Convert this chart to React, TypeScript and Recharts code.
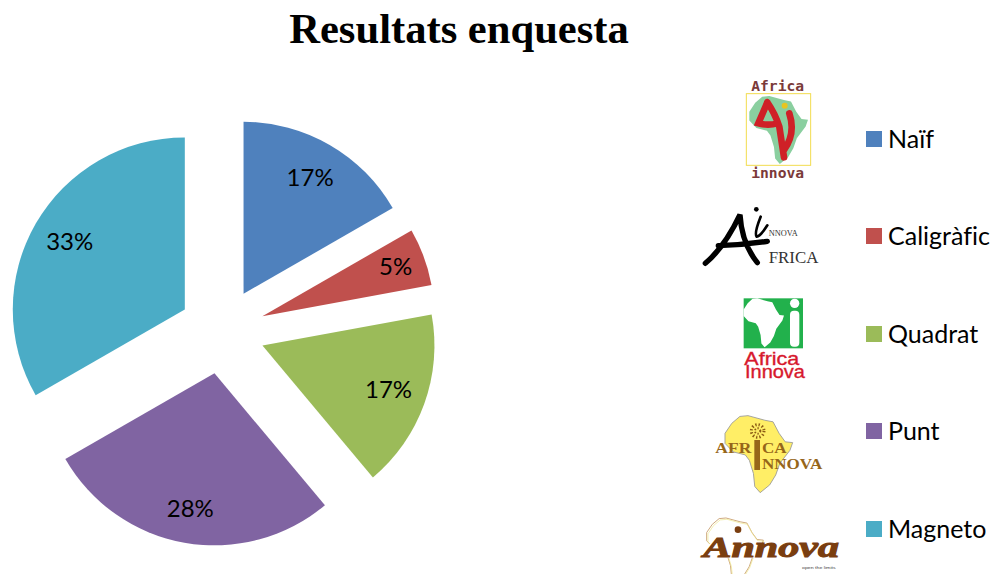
import { PieChart, Pie, Legend, Sector } from "recharts";

const categories = ["Naïf", "Caligràfic", "Quadrat", "Punt", "Magneto"];
const shares = [16.7, 5.4, 16.8, 27.8, 33.3];
const colors = ["#4F81BD", "#C0504D", "#9BBB59", "#8064A2", "#4BACC6"];

const chartData = categories.map((name, i) => ({ name, value: shares[i], fill: colors[i] }));

const RADIAN = Math.PI / 180;
const EXPLODE = 43;
const LABEL_RADII: Record<string, number> = { Naïf: 176, Caligràfic: 185, Quadrat: 177, Punt: 181, Magneto: 176 };
const AFRICA =
  "M22 1 L34 0 L59 6 L71 8 L80 23 L89 34 L100 35 L96 45 L81 62 L75 77 L66 90 L52 100 L44 92 L42 75 L36 58 L30 51 L12 47 L0 36 L0 23 L10 10 Z";

// Sector pushed outwards along its middle angle
const ExplodedSector = (props: any) => {
  const dx = EXPLODE * Math.cos(-props.midAngle * RADIAN);
  const dy = EXPLODE * Math.sin(-props.midAngle * RADIAN);
  return <Sector {...props} cx={props.cx + dx} cy={props.cy + dy} stroke="none" />;
};

const SliceLabel = ({ cx, cy, midAngle, value, name }: any) => (
  <text
    x={cx + LABEL_RADII[name] * Math.cos(-midAngle * RADIAN)}
    y={cy + LABEL_RADII[name] * Math.sin(-midAngle * RADIAN) - 2}
    textAnchor="middle"
    dominantBaseline="central"
    fontFamily="Lato"
    fontSize={24}
    fill="#000"
  >
    {`${Math.round(value)}%`}
  </text>
);

const LegendRows = ({ payload }: any) => (
  <div style={{ fontFamily: "Lato", fontSize: 25, color: "#000", fontVariantLigatures: "none" }}>
    {(payload || []).map((entry: any) => (
      <div key={entry.value} style={{ height: 97.4, display: "flex", alignItems: "flex-start" }}>
        <span style={{ width: 16, height: 16, marginTop: 8, marginRight: 6, background: entry.color }} />
        <span style={{ lineHeight: "30px", whiteSpace: "nowrap" }}>{entry.value}</span>
      </div>
    ))}
  </div>
);

// Logos next to the legend, drawn in 3x coordinates
const LogoNaif = () => (
  <g transform="translate(690 70) scale(0.3333)">
    <rect x={169} y={71} width={193} height={215} fill="#fff" stroke="#F2DC4E" strokeWidth={3} />
    <path d={AFRICA} transform="translate(178 78) scale(1.76 2.04)" fill="#8ACF9F" />
    <path
      d="M232 97 Q218 130 205 160 Q235 168 262 160 M232 97 Q255 130 268 170 L282 262 M298 130 Q318 190 282 240"
      fill="none"
      stroke="#CF2027"
      strokeWidth={20}
      strokeLinecap="round"
    />
    <circle cx={284} cy={107} r={9} fill="#E8C520" />
    <text x={263} y={63} textAnchor="middle" fontFamily="DejaVu Sans Mono" fontWeight="bold" fontSize={44} fill="#7B3A3A">
      Africa
    </text>
    <text x={263} y={324} textAnchor="middle" fontFamily="DejaVu Sans Mono" fontWeight="bold" fontSize={44} fill="#7B3A3A">
      innova
    </text>
  </g>
);

const LogoCaligrafic = () => (
  <g transform="translate(690 70) scale(0.3333)">
    <path
      d="M46 580 Q105 530 150 434 Q155 520 202 578 M85 527 Q160 525 232 514"
      fill="none"
      stroke="#000"
      strokeWidth={16}
      strokeLinecap="round"
    />
    <path d="M212 440 Q192 490 200 500 Q212 498 232 466" fill="none" stroke="#000" strokeWidth={8} strokeLinecap="round" />
    <circle cx={199} cy={418} r={7} fill="#000" />
    <text x={236} y={497} fontFamily="Liberation Serif" fontSize={27} fill="#333" textLength={87} lengthAdjust="spacingAndGlyphs">
      NNOVA
    </text>
    <text x={236} y={578} fontFamily="Liberation Serif" fontSize={50} fill="#333" textLength={149} lengthAdjust="spacingAndGlyphs">
      FRICA
    </text>
  </g>
);

const LogoQuadrat = () => (
  <g transform="translate(690 290) scale(0.3333)">
    <rect x={161} y={25} width={178} height={150} fill="#22B14C" />
    <path d={AFRICA} transform="translate(161 25) scale(1.21 1.47)" fill="#fff" />
    <circle cx={314} cy={40} r={14} fill="#fff" />
    <rect x={300} y={62} width={28} height={108} rx={12} fill="#fff" />
    <text x={163} y={224} fontFamily="Liberation Sans" fontSize={54} fill="#D7192D" stroke="#D7192D" strokeWidth={1} textLength={165} lengthAdjust="spacingAndGlyphs">
      Africa
    </text>
    <text x={165} y={264} fontFamily="Liberation Sans" fontSize={54} fill="#D7192D" stroke="#D7192D" strokeWidth={1} textLength={180} lengthAdjust="spacingAndGlyphs">
      Innova
    </text>
  </g>
);

const LogoPunt = () => (
  <g transform="translate(690 290) scale(0.3333)">
    <path d={AFRICA} transform="translate(105 377) scale(2.03 2.31)" fill="#FFEE66" stroke="#9a9a9a" strokeWidth={1.2} />
    <circle cx={203} cy={423} r={19} fill="none" stroke="#8B5A14" strokeWidth={9} strokeDasharray="4 6" />
    <circle cx={203} cy={423} r={8} fill="none" stroke="#8B5A14" strokeWidth={6} strokeDasharray="4 5" />
    <rect x={193} y={450} width={17} height={90} fill="#96661A" />
    <text x={76} y={488} fontFamily="Liberation Serif" fontWeight="bold" fontSize={42} fill="#96661A" textLength={108} lengthAdjust="spacingAndGlyphs">
      AFR
    </text>
    <text x={216} y={488} fontFamily="Liberation Serif" fontWeight="bold" fontSize={42} fill="#96661A" textLength={74} lengthAdjust="spacingAndGlyphs">
      CA
    </text>
    <text x={216} y={538} fontFamily="Liberation Serif" fontWeight="bold" fontSize={42} fill="#96661A" textLength={181} lengthAdjust="spacingAndGlyphs">
      NNOVA
    </text>
  </g>
);

const LogoMagneto = () => (
  <g transform="translate(690 290) scale(0.3333)">
    <path d={AFRICA} transform="translate(50 684) scale(1.7 1.9)" fill="none" stroke="#C9A070" strokeWidth={1.5} />
    <path d={AFRICA} transform="translate(54 688) scale(1.67 1.88)" fill="none" stroke="#F0E890" strokeWidth={1.2} />
    <rect x={40} y={762} width={407} height={42} fill="#fff" />
    <circle cx={144} cy={719} r={10} fill="#7A3E10" />
    <text x={40} y={800} fontFamily="Liberation Serif" fontWeight="bold" fontStyle="italic" fontSize={86} fill="#7A3E10" stroke="#7A3E10" strokeWidth={3} textLength={407} lengthAdjust="spacingAndGlyphs">
      Annova
    </text>
    <text x={336} y={836} fontFamily="Liberation Sans" fontSize={11} fill="#444" textLength={101} lengthAdjust="spacingAndGlyphs">
      open the limits
    </text>
  </g>
);

export default function App() {
  return (
    <div style={{ position: "absolute", left: 0, top: 0, width: 990, height: 574, overflow: "hidden", background: "#fff" }}>
      <PieChart width={990} height={574} margin={{ top: 0, right: 0, bottom: 0, left: 0 }}>
        <text x={459} y={43} textAnchor="middle" fontFamily="Liberation Serif" fontWeight="bold" fontSize={42.6} fill="#000">
          Resultats enquesta
        </text>
        <Pie
          data={chartData}
          dataKey="value"
          nameKey="name"
          cx={222}
          cy={331}
          outerRadius={172}
          startAngle={90}
          endAngle={-270}
          shape={ExplodedSector}
          label={SliceLabel}
          labelLine={false}
          legendType="square"
          isAnimationActive={false}
        />
        <Legend
          layout="vertical"
          content={LegendRows}
          itemSorter={null}
          wrapperStyle={{ position: "absolute", left: 866, top: 123, width: 124, bottom: "auto", right: "auto" }}
        />
        <LogoNaif />
        <LogoCaligrafic />
        <LogoQuadrat />
        <LogoPunt />
        <LogoMagneto />
      </PieChart>
    </div>
  );
}
